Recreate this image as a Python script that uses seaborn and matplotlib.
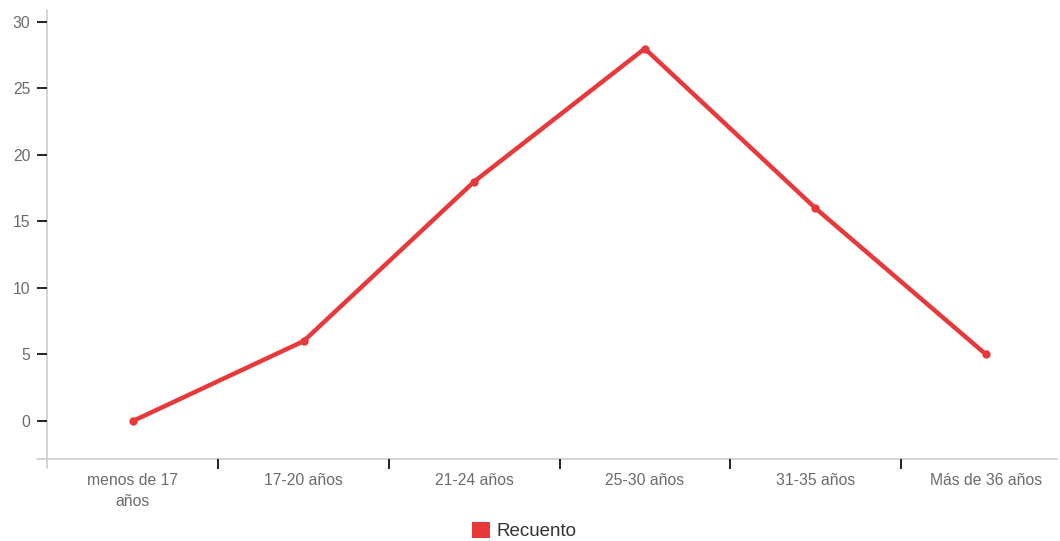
import matplotlib
matplotlib.use("Agg")
import matplotlib.pyplot as plt
from matplotlib.patches import Patch
import seaborn as sns
import pandas as pd

# Age groups and counts
categories = ["menos de 17\naños", "17-20 años", "21-24 años", "25-30 años", "31-35 años", "Más de 36 años"]
counts = [0, 6, 18, 28, 16, 5]
y_ticks = [0, 5, 10, 15, 20, 25, 30]
series_name = "Recuento"

RED = "#e8393a"
GRAY_AXIS = "#d0d0d0"
TICK_LABEL = "#6b6b6b"

sns.set_theme(style="white")
plt.rcParams["font.family"] = ["Liberation Sans", "DejaVu Sans"]

df = pd.DataFrame({"pos": range(len(categories)), "count": counts})

fig = plt.figure(figsize=(10.6, 5.41), dpi=100)
ax = fig.add_axes([47 / 1060, 1 - 459 / 541, (1057 - 47) / 1060, (459 - 10) / 541])

sns.lineplot(data=df, x="pos", y="count", ax=ax, color=RED, linewidth=3.2,
             marker="o", markersize=6, markeredgewidth=0, legend=False)

ax.set_xlim(-0.504, 5.416)
ax.set_ylim(-2.86, 30.9)

# X axis: labels at category centres, tick marks at category boundaries
ax.set_xticks(range(len(categories)))
ax.set_xticklabels(categories, color=TICK_LABEL, fontsize=11.3, linespacing=1.5)
ax.tick_params(axis="x", which="major", length=0, pad=10)
ax.set_xticks([0.5, 1.5, 2.5, 3.5, 4.5], minor=True)
ax.tick_params(axis="x", which="minor", bottom=True, length=7, width=1.4,
               color="#222222", direction="out")

# Y axis
ax.set_yticks(y_ticks)
ax.set_yticklabels([str(v) for v in y_ticks], color=TICK_LABEL, fontsize=11.3)
ax.tick_params(axis="y", which="major", left=True, length=7, width=1.4,
               color="#222222", direction="out", pad=5)

ax.set_xlabel("")
ax.set_ylabel("")
ax.grid(False)

# Axis lines, slightly extended past the corner
for s in ax.spines.values():
    s.set_visible(False)
ax.plot([0, 0], [-0.02, 1.0], transform=ax.transAxes, color=GRAY_AXIS,
        linewidth=1.3, clip_on=False, zorder=0)
ax.plot([-0.01, 1.0], [0, 0], transform=ax.transAxes, color=GRAY_AXIS,
        linewidth=1.3, clip_on=False, zorder=0)

handles = [Patch(facecolor=RED, edgecolor="none", label=series_name)]
fig.legend(handles=handles, loc="center", bbox_to_anchor=(524 / 1060, 1 - 531 / 541),
           frameon=False, fontsize=13.5, handlelength=0.95, handleheight=0.95,
           handletextpad=0.35, labelcolor="#333333")

fig.savefig("out.png", dpi=100, facecolor="white")
